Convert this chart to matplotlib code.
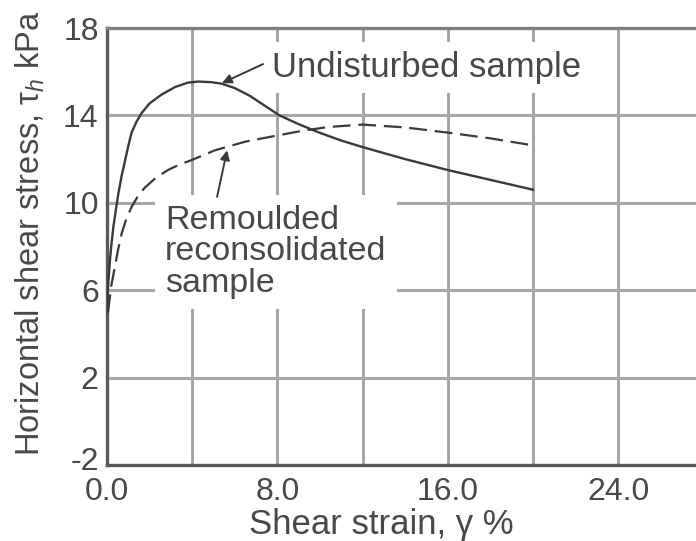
import matplotlib
matplotlib.use("Agg")
import matplotlib.pyplot as plt
from matplotlib.transforms import ScaledTranslation

# shear stress vs shear strain for the two samples
undisturbed_strain = [0.0, 0.05, 0.14, 0.22, 0.30, 0.42, 0.53, 0.68, 0.84, 1.0, 1.15, 1.38,
                      1.62, 2.0, 2.56, 3.2, 3.8, 4.3, 4.9, 5.4, 6.0, 6.7, 7.4, 8.1, 9.0,
                      10.0, 11.0, 12.0, 14.0, 16.0, 18.0, 20.0]
undisturbed_stress = [5.0, 6.2, 7.4, 8.2, 8.9, 9.7, 10.4, 11.2, 11.9, 12.6, 13.2, 13.7,
                      14.1, 14.55, 14.95, 15.3, 15.5, 15.55, 15.52, 15.45, 15.25, 14.9, 14.45,
                      14.0, 13.6, 13.2, 12.85, 12.55, 12.0, 11.5, 11.05, 10.6]

remoulded_strain = [0.05, 0.2, 0.37, 0.52, 0.69, 0.9, 1.15, 1.45, 1.78, 2.3, 2.86, 3.4,
                    3.96, 5.06, 6.5, 8.1, 9.2, 10.4, 12.0, 14.0, 16.1, 18.0, 20.0]
remoulded_stress = [5.0, 6.2, 7.07, 7.85, 8.6, 9.25, 9.8, 10.3, 10.7, 11.15, 11.5, 11.75,
                    11.95, 12.4, 12.8, 13.1, 13.3, 13.47, 13.58, 13.45, 13.2, 12.95, 12.63]

x_ticks = [0.0, 8.0, 16.0, 24.0]
x_grid = [4, 8, 12, 16, 20, 24]
y_ticks = [-2, 2, 6, 10, 14, 18]

ink = "#3a3a3a"
txt = "#484848"
plt.rcParams["font.family"] = ["Liberation Sans", "DejaVu Sans"]
plt.rcParams["mathtext.fontset"] = "custom"
plt.rcParams["mathtext.rm"] = "Liberation Sans"
plt.rcParams["mathtext.it"] = "Liberation Sans:italic"
plt.rcParams["axes.unicode_minus"] = False

fig = plt.figure(figsize=(6.96, 5.41), dpi=100)
ax = fig.add_axes([107 / 696, 76 / 541, 589 / 696, 437 / 541])
ax.set_xlim(0, 27.66)
ax.set_ylim(-2, 18)

for gx in x_grid:
    ax.axvline(gx, color="#a0a0a0", lw=2.0, zorder=0)
for gy in y_ticks:
    ax.axhline(gy, color="#a8a8a8", lw=2.2, zorder=0)

ax.plot(undisturbed_strain, undisturbed_stress, color=ink, lw=1.7, zorder=3)
ax.plot(remoulded_strain, remoulded_stress, color=ink, lw=1.6,
        linestyle=(0, (8, 3.5)), zorder=3)

ax.set_xticks(x_ticks)
ax.set_xticklabels(["0.0", "8.0", "16.0", "24.0"])
ax.set_yticks(y_ticks)
ax.tick_params(length=0, labelsize=23, colors=txt)
ax.tick_params(axis="x", pad=9)
ax.tick_params(axis="y", pad=6)

# lift the bottom y label a little so it clears "0.0"
lowest = ax.get_yticklabels()[0]
lowest.set_transform(lowest.get_transform() + ScaledTranslation(0, 7 / 100, fig.dpi_scale_trans))

for side in ["left", "bottom", "top"]:
    ax.spines[side].set_color("#5a5a5a")
    ax.spines[side].set_linewidth(2.4)
ax.spines["top"].set_color("#808080")
ax.spines["right"].set_visible(False)

ax.text(0.465, -0.137, "Shear strain, γ %", transform=ax.transAxes,
        ha="center", va="center", fontsize=25, color=txt)
ax.text(-0.13, 0.531, "Horizontal shear stress, τ$_{h}$ kPa", transform=ax.transAxes,
        ha="center", va="center", rotation=90, fontsize=23.5, color=txt)

arrow = dict(arrowstyle="-|>", color=ink, lw=1.4, mutation_scale=14, shrinkA=0, shrinkB=0)

ax.text(7.75, 16.2, "Undisturbed sample", fontsize=25, color=txt, ha="left", va="center",
        bbox=dict(boxstyle="square,pad=0.25", fc="white", ec="none"), zorder=5)
ax.annotate("", xy=(5.40, 15.48), xytext=(7.33, 16.35), arrowprops=arrow, zorder=6)

ax.text(2.72, 7.75, "Remoulded\nreconsolidated\nsample", fontsize=24.5, color=txt,
        ha="left", va="center", linespacing=1.03,
        bbox=dict(boxstyle="square,pad=0.3", fc="white", ec="none"), zorder=5)
ax.annotate("", xy=(5.64, 12.4), xytext=(5.17, 10.27), arrowprops=arrow, zorder=6)

fig.savefig("out.png", dpi=100)
